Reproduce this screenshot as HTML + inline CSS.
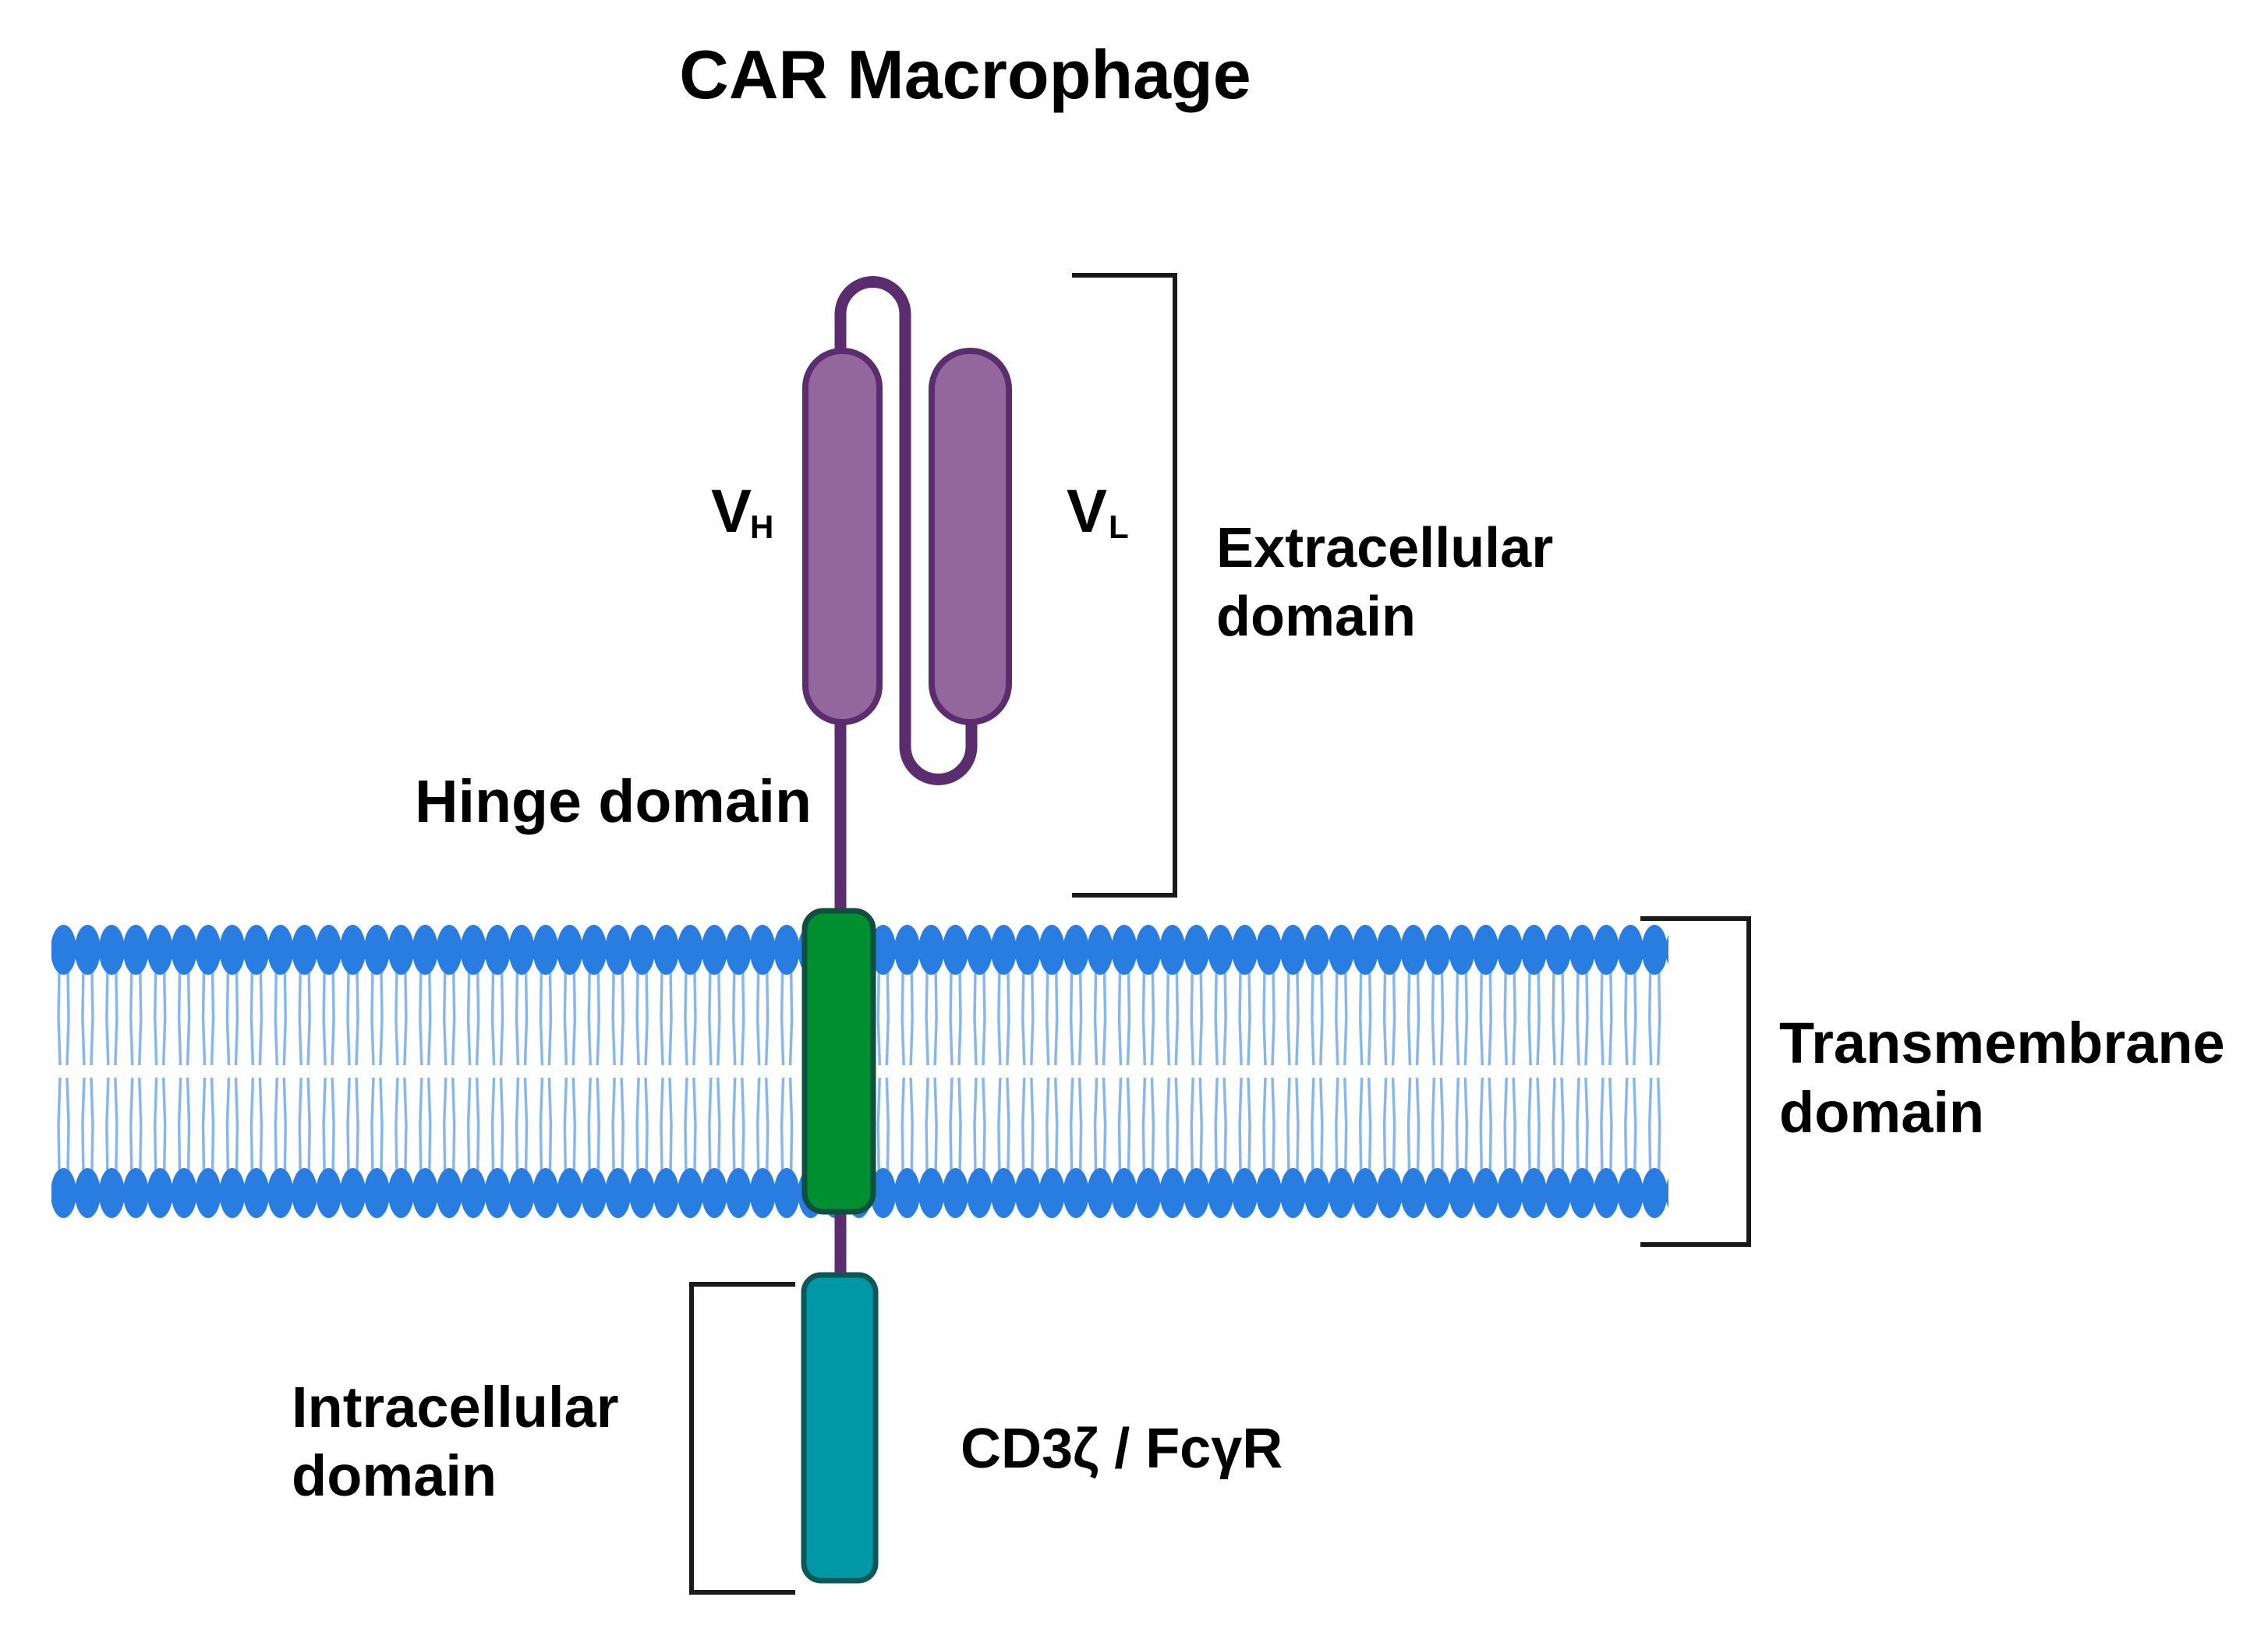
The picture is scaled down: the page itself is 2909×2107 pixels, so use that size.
<!DOCTYPE html>
<html><head><meta charset="utf-8"><style>
html,body{margin:0;padding:0;background:#fff;}
svg{display:block;}
text{font-family:"Liberation Sans",Arial,sans-serif;font-weight:bold;fill:#000;}
</style></head><body>
<svg width="2909" height="2107" viewBox="0 0 2909 2107" xmlns="http://www.w3.org/2000/svg">
<defs>
<pattern id="mem" patternUnits="userSpaceOnUse" x="66" y="1186" width="30.92" height="380">
  <g stroke="#86b6ec" stroke-width="3.5" fill="none">
    <path d="M10 58 L9 120 L11 180"/>
    <path d="M21 58 L22 120 L20 180"/>
    <path d="M11 196 L9 256 L10 318"/>
    <path d="M20 196 L22 256 L21 318"/>
  </g>
  <ellipse cx="15.46" cy="32" rx="16.5" ry="32" fill="#2a7de0"/>
  <ellipse cx="15.46" cy="344" rx="16.5" ry="32" fill="#2a7de0"/>
</pattern>
</defs>
<text x="1238" y="126" font-size="88" text-anchor="middle">CAR Macrophage</text>

<rect x="66" y="1186" width="2074" height="378" fill="url(#mem)"/>

<line x1="1078" y1="920" x2="1078" y2="1640" stroke="#5c2d6e" stroke-width="15"/>
<path d="M1078 450 V403 A41.5 41.5 0 0 1 1161 403 V957 A42.5 42.5 0 0 0 1246 957 V925" fill="none" stroke="#5c2d6e" stroke-width="15"/>
<rect x="1033" y="450" width="95" height="476" rx="47" fill="#93679e" stroke="#5c2d6e" stroke-width="8"/>
<rect x="1195" y="450" width="99" height="476" rx="49" fill="#93679e" stroke="#5c2d6e" stroke-width="8"/>

<rect x="1032" y="1168" width="88" height="386" rx="24" fill="#008f30" stroke="#0f4f3f" stroke-width="7"/>
<rect x="1031" y="1635" width="92" height="392" rx="22" fill="#0098a6" stroke="#0c5758" stroke-width="7"/>

<path d="M1375 353 H1507 V1148 H1375" fill="none" stroke="#1a1a1a" stroke-width="6"/>
<path d="M2104 1178 H2243 V1596 H2104" fill="none" stroke="#1a1a1a" stroke-width="6"/>
<path d="M1020 1647 H887 V2042 H1020" fill="none" stroke="#1a1a1a" stroke-width="6"/>

<text x="912" y="682" font-size="78">V</text><text x="962" y="690" font-size="42">H</text>
<text x="1368" y="682" font-size="78">V</text><text x="1422" y="690" font-size="42">L</text>
<text x="1560" y="727" font-size="72">Extracellular</text>
<text x="1560" y="815" font-size="72">domain</text>
<text x="532" y="1054" font-size="77">Hinge domain</text>
<text x="2282" y="1363" font-size="74">Transmembrane</text>
<text x="2282" y="1452" font-size="74">domain</text>
<text x="374" y="1830" font-size="74">Intracellular</text>
<text x="374" y="1918" font-size="74">domain</text>
<text x="1232" y="1882" font-size="72">CD3ζ / FcγR</text>
</svg>
</body></html>
